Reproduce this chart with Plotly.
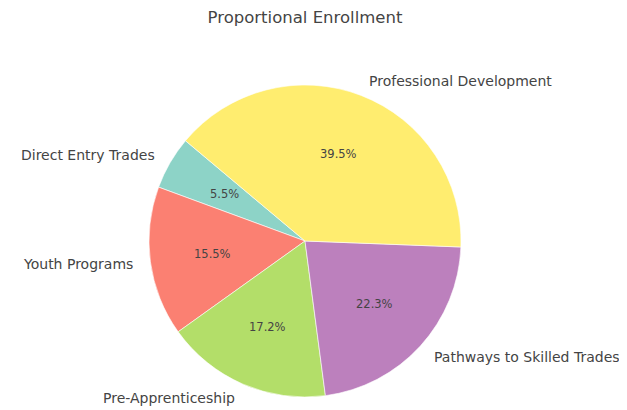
import math
import plotly.graph_objects as go

labels = ["Direct Entry Trades", "Youth Programs", "Pre-Apprenticeship",
          "Pathways to Skilled Trades", "Professional Development"]
values = [5.5, 15.5, 17.2, 22.3, 39.5]
colors = ["#8dd3c7", "#fb8072", "#b3de69", "#bc80bd", "#ffed6f"]
title = "Proportional Enrollment"

OFF = 8  # default page body margin
W, H = 627 - OFF, 410 - OFF
cx, cy, r = 305 - OFF, 241 - OFF, 156  # pie centre / radius in figure px
start_angle = 140  # degrees, counter-clockwise from 3 o'clock

total = sum(values)
# plotly (counterclockwise) places the first slice ending at `rotation`
rotation = 90 - start_angle - 360 * values[0] / total

fig = go.Figure(go.Pie(
    labels=labels, values=values, sort=False,
    direction="counterclockwise", rotation=rotation,
    marker=dict(colors=colors, line=dict(color="white", width=0.6)),
    textinfo="none", hoverinfo="label+percent", showlegend=False,
    domain=dict(x=[(cx - r) / W, (cx + r) / W],
                y=[(H - cy - r) / H, (H - cy + r) / H]),
))

ann = []
acc = start_angle
for lab, v in zip(labels, values):
    span = 360 * v / total
    mid = math.radians(acc + span / 2)
    acc += span
    c, s = math.cos(mid), math.sin(mid)
    lx = cx + 1.1 * r * c
    ly = cy - 1.1 * r * s
    ann.append(dict(x=lx / W, y=1 - ly / H, xref="paper", yref="paper",
                    text=lab, showarrow=False,
                    xanchor="left" if c > 0 else "right", yanchor="middle",
                    font=dict(family="DejaVu Sans", size=14, color="#444444")))
    px = cx + 0.6 * r * c
    py = cy - 0.6 * r * s
    ann.append(dict(x=px / W, y=1 - py / H, xref="paper", yref="paper",
                    text=f"{100 * v / total:.1f}%", showarrow=False,
                    xanchor="center", yanchor="middle",
                    font=dict(family="DejaVu Sans", size=11.5, color="#444444")))

fig.update_layout(
    width=W, height=H, margin=dict(l=0, r=0, t=0, b=0),
    paper_bgcolor="white", plot_bgcolor="white",
    title=dict(text=title, x=cx / W, xanchor="center", y=1 - (17 - OFF) / H,
               yanchor="middle",
               font=dict(family="DejaVu Sans", size=16.5, color="#444444")),
    annotations=ann,
)
fig.write_html("out.html")
